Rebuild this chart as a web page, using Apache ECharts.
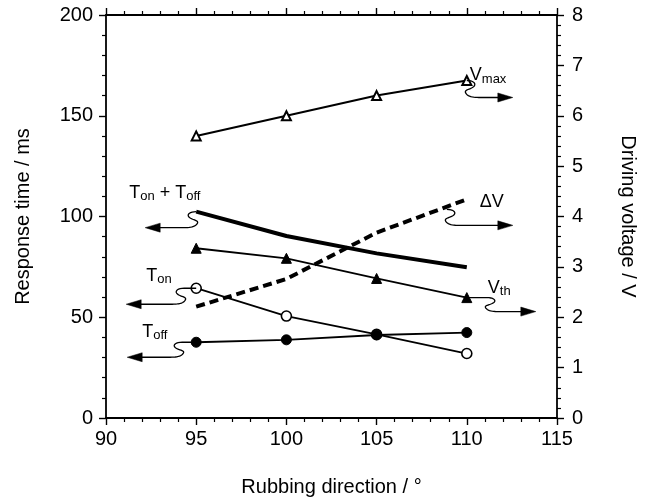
<!DOCTYPE html>
<html><head><meta charset="utf-8">
<script src="https://cdn.jsdelivr.net/npm/echarts@6/dist/echarts.min.js"></script>
<style>html,body{margin:0;padding:0;background:#fff}#c{width:649px;height:498px}</style>
</head><body><div id="c"></div>
<script>
// ---- data ----
const rubbing = [95, 100, 105, 110];
const vMax    = [5.6, 6.0, 6.4, 6.7];        // right axis (V)
const tOnOff  = [102.4, 90.3, 81.7, 74.8];   // left axis (ms)
const vTh     = [3.37, 3.17, 2.77, 2.39];    // right axis (V)
const deltaV  = [2.21, 2.76, 3.68, 4.34];    // right axis (V)
const tOn     = [64.4, 50.6, 41.5, 32.0];    // left axis (ms)
const tOff    = [37.6, 38.8, 41.2, 42.4];    // left axis (ms)
const xTicks  = [90, 95, 100, 105, 110, 115];
const yLeftTicks  = [0, 50, 100, 150, 200];
const yRightTicks = [0, 1, 2, 3, 4, 5, 6, 7, 8];

const FONT = '"Liberation Sans", Arial, Helvetica, sans-serif';
const pair = arr => rubbing.map((x, i) => [x, arr[i]]);

const chart = echarts.init(document.getElementById('c'), null, {renderer: 'canvas'});

const axisCommon = {
  axisLine: {show: true, onZero: false, lineStyle: {color: '#000', width: 1.8}},
  axisTick: {show: true, inside: false, length: 7, lineStyle: {color: '#000', width: 1.4}},
  minorTick: {show: true, splitNumber: 5, length: 4, lineStyle: {color: '#000', width: 1.2}},
  splitLine: {show: false},
  minorSplitLine: {show: false}
};

function line(name, arr, yIdx, opts) {
  return Object.assign({
    name, type: 'line', data: pair(arr), yAxisIndex: yIdx, xAxisIndex: 0,
    animation: false, silent: true, z: 3
  }, opts);
}

const option = {
  animation: false,
  backgroundColor: '#fff',
  grid: {left: 106, right: 92, top: 15, bottom: 80, containLabel: false, outerBoundsMode: 'none'},
  xAxis: [
    Object.assign({}, axisCommon, {
      type: 'value', position: 'bottom', min: xTicks[0], max: xTicks[xTicks.length - 1], interval: 5,
      name: 'Rubbing direction / °', nameLocation: 'middle', nameGap: 59,
      nameTextStyle: {color: '#000', fontSize: 20, fontFamily: FONT},
      axisLabel: {show: true, color: '#000', fontSize: 20, fontFamily: FONT, margin: 11}
    }),
    Object.assign({}, axisCommon, {
      type: 'value', position: 'top', min: xTicks[0], max: xTicks[xTicks.length - 1], interval: 5,
      axisLabel: {show: false}
    })
  ],
  yAxis: [
    Object.assign({}, axisCommon, {
      type: 'value', position: 'left', min: yLeftTicks[0], max: yLeftTicks[yLeftTicks.length - 1], interval: 50,
      name: 'Response time / ms', nameLocation: 'middle', nameGap: 73, nameRotate: 90,
      nameTextStyle: {color: '#000', fontSize: 20, fontFamily: FONT},
      axisLabel: {show: true, color: '#000', fontSize: 20, fontFamily: FONT, margin: 13}
    }),
    Object.assign({}, axisCommon, {
      type: 'value', position: 'right', min: yRightTicks[0], max: yRightTicks[yRightTicks.length - 1], interval: 1,
      name: 'Driving voltage / V', nameLocation: 'middle', nameGap: 61, nameRotate: -90,
      nameTextStyle: {color: '#000', fontSize: 20, fontFamily: FONT},
      axisLabel: {show: true, color: '#000', fontSize: 20, fontFamily: FONT, margin: 15}
    })
  ],
  series: [
    line('Vmax', vMax, 1, {symbol: 'triangle', symbolSize: 9, showSymbol: true,
      lineStyle: {color: '#000', width: 2}, itemStyle: {color: '#fff', borderColor: '#000', borderWidth: 2}}),
    line('Ton+Toff', tOnOff, 0, {symbol: 'none', showSymbol: false,
      lineStyle: {color: '#000', width: 4}}),
    line('Vth', vTh, 1, {symbol: 'triangle', symbolSize: 10, showSymbol: true,
      lineStyle: {color: '#000', width: 1.8}, itemStyle: {color: '#000', borderColor: '#000', borderWidth: 1}}),
    line('dV', deltaV, 1, {symbol: 'none', showSymbol: false,
      lineStyle: {color: '#000', width: 4, type: [9, 5], cap: 'butt'}}),
    line('Ton', tOn, 0, {symbol: 'circle', symbolSize: 10, showSymbol: true,
      lineStyle: {color: '#000', width: 1.8}, itemStyle: {color: '#fff', borderColor: '#000', borderWidth: 1.6}}),
    line('Toff', tOff, 0, {symbol: 'circle', symbolSize: 10, showSymbol: true,
      lineStyle: {color: '#000', width: 1.8}, itemStyle: {color: '#000', borderColor: '#000', borderWidth: 1}})
  ]
};
chart.setOption(option);

// ---- annotations (labels + wavy arrows) ----
function px(yIdx, x, y) {
  return chart.convertToPixel({xAxisIndex: 0, yAxisIndex: yIdx}, [x, y]);
}
function bez(p0, p1, p2, p3, n) {
  const out = [];
  for (let i = 1; i <= n; i++) {
    const t = i / n, m = 1 - t;
    out.push([
      m*m*m*p0[0] + 3*m*m*t*p1[0] + 3*m*t*t*p2[0] + t*t*t*p3[0],
      m*m*m*p0[1] + 3*m*m*t*p1[1] + 3*m*t*t*p2[1] + t*t*t*p3[1]
    ]);
  }
  return out;
}
function arrow(p, dir, lead, h, tip) {
  const P = (u, v) => [p[0] + dir * u, p[1] + v];
  const a = lead;
  let pts = [P(0, 0), P(a, 0)];
  pts = pts.concat(bez(P(a, 0), P(a + 8, 0), P(a + 10, h * 0.25), P(a + 6, h * 0.4), 10));
  pts = pts.concat(bez(P(a + 6, h * 0.4), P(a + 2, h * 0.55), P(a - 3, h * 0.55), P(a - 1, h * 0.75), 10));
  pts = pts.concat(bez(P(a - 1, h * 0.75), P(a + 1, h * 0.95), P(a + 6, h), P(a + 12, h), 10));
  pts.push(P(tip - 12, h));
  return [
    {type: 'polyline', silent: true, z: 10, shape: {points: pts}, style: {stroke: '#000', lineWidth: 1.3, fill: null}},
    {type: 'polygon', silent: true, z: 10, shape: {points: [P(tip, h), P(tip - 15, h - 4.5), P(tip - 15, h + 4.5)]},
      style: {fill: '#000', stroke: '#000', lineWidth: 0.5}}
  ];
}
const rich = {
  m: {fontSize: 18, fontFamily: FONT, fill: '#000', lineHeight: 19, verticalAlign: 'top'},
  s: {fontSize: 13, fontFamily: FONT, fill: '#000', lineHeight: 13, verticalAlign: 'bottom', padding: [8, 0, 0, 0]}
};
function label(p, dx, dy, text) {
  return {type: 'text', silent: true, z: 11, x: p[0] + dx, y: p[1] + dy,
    style: {text, rich, fill: '#000', font: '18px ' + FONT, textAlign: 'left', textVerticalAlign: 'top'}};
}

const last = rubbing.length - 1;
const aOnOff = px(0, rubbing[0], tOnOff[0]);
const aOn = px(0, rubbing[0], tOn[0]);
const aOff = px(0, rubbing[0], tOff[0]);
const aMax = px(1, rubbing[last], vMax[last]);
const aDV = px(1, rubbing[last], deltaV[last]);
const aTh = px(1, rubbing[last], vTh[last]);

let g = [];
g.push(label(aOnOff, -67, -28, '{m|T}{s|on}{m| + T}{s|off}'));
g = g.concat(arrow(aOnOff, -1, 0, 16, 51));
g.push(label(aOn, -50, -21, '{m|T}{s|on}'));
g = g.concat(arrow(aOn, -1, 12, 16, 70));
g.push(label(aOff, -54, -19, '{m|T}{s|off}'));
g = g.concat(arrow(aOff, -1, 14, 15, 69));
g.push(label(aMax, 3, -14, '{m|V}{s|max}'));
g = g.concat(arrow(aMax, 1, 0, 17, 46));
g.push(label(aDV, 13, -6, '{m|ΔV}'));
g = g.concat(arrow([aDV[0] - 20, aDV[1] + 10], 1, 0, 16, 66));
g.push(label(aTh, 21, -19, '{m|V}{s|th}'));
g = g.concat(arrow(aTh, 1, 20, 14, 69));

chart.setOption({graphic: {elements: g}});
</script>
</body></html>
